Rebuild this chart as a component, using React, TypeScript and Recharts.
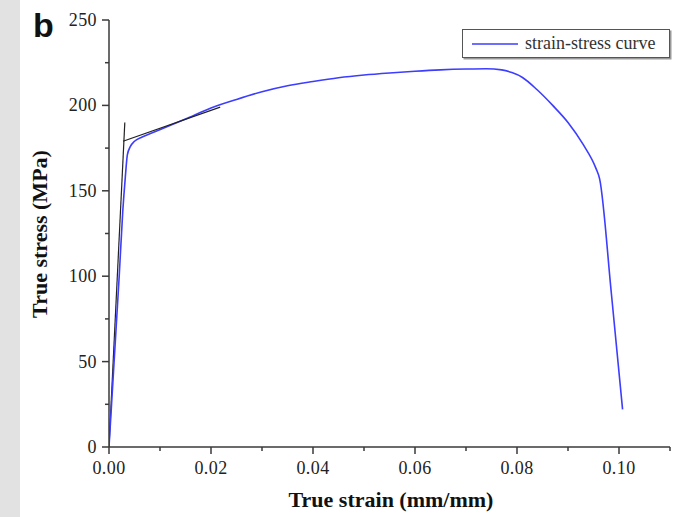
import { LineChart, Line, XAxis, YAxis, Legend } from 'recharts';

// main strain-stress curve
const strain = [
  0, 0.001, 0.002, 0.0027, 0.0032, 0.0036, 0.0042, 0.005, 0.0065, 0.0085, 0.011,
  0.015, 0.02, 0.025, 0.03, 0.035, 0.04, 0.045, 0.05, 0.055, 0.06, 0.065, 0.07,
  0.074, 0.077, 0.079, 0.081, 0.084, 0.087, 0.09, 0.093, 0.0955, 0.0962, 0.0985,
  0.1007,
];
const stress = [
  0, 50, 100, 138, 158, 171, 176, 179, 181.5, 184, 187, 192, 198.5, 203.5, 208,
  211.5, 214, 216.2, 217.8, 219, 220, 220.8, 221.3, 221.5, 220.8, 219.2, 216.5,
  209, 200, 190, 177, 163, 157, 90, 22,
];

// construction lines (elastic slope and hardening tangent)
const elasticStrain = [0, 0.0031];
const elasticStress = [0, 190];
const tangentStrain = [0.00275, 0.0218];
const tangentStress = [179, 199];

const xTicks = [0, 0.01, 0.02, 0.03, 0.04, 0.05, 0.06, 0.07, 0.08, 0.09, 0.1, 0.11];
const yTicks = [0, 25, 50, 75, 100, 125, 150, 175, 200, 225, 250];

const toPoints = (xs: number[], ys: number[]) => xs.map((x, i) => ({ x, y: ys[i] }));

const curve = toPoints(strain, stress);
const elastic = toPoints(elasticStrain, elasticStress);
const tangent = toPoints(tangentStrain, tangentStress);

const BLUE = '#3d3dff';
const AXIS = '#3a3a3a';
const SERIF = '"Liberation Serif", "DejaVu Serif", serif';

const XTick = ({ x, y, payload }: any) => {
  const v = payload.value;
  const major = Math.round(v * 100) % 2 === 0;
  return (
    <g>
      <line x1={x} x2={x} y1={y} y2={y + (major ? 7 : 4)} stroke={AXIS} strokeWidth={1.5} />
      {major && (
        <text x={x} y={y + 27} textAnchor="middle" fontFamily={SERIF} fontSize={18} fill="#222" letterSpacing={0.4}>
          {v.toFixed(2)}
        </text>
      )}
    </g>
  );
};

const YTick = ({ x, y, payload }: any) => {
  const v = payload.value;
  const major = v % 50 === 0;
  return (
    <g>
      <line x1={x} x2={x - (major ? 7 : 4)} y1={y} y2={y} stroke={AXIS} strokeWidth={1.5} />
      {major && (
        <text x={x - 12} y={y + 6} textAnchor="end" fontFamily={SERIF} fontSize={18} fill="#222" letterSpacing={0.4}>
          {v}
        </text>
      )}
    </g>
  );
};

const LegendBox = () => (
  <div
    style={{
      width: 208,
      height: 29,
      border: '1.5px solid #555',
      boxShadow: '1.5px 1.5px 0 #999',
      background: '#fff',
      display: 'flex',
      alignItems: 'center',
      boxSizing: 'border-box',
    }}
  >
    <svg width={62} height={20}>
      <line x1={9} x2={55} y1={10} y2={10} stroke={BLUE} strokeWidth={1.5} />
    </svg>
    <span style={{ fontFamily: SERIF, fontSize: 18, color: '#333', whiteSpace: 'nowrap' }}>strain-stress curve</span>
  </div>
);

const titleStyle = {
  position: 'absolute' as const,
  whiteSpace: 'nowrap' as const,
  fontFamily: SERIF,
  fontWeight: 'bold' as const,
  fontSize: 22,
  color: '#111',
};

export default function App() {
  return (
    <div style={{ position: 'absolute', left: 0, top: 0, width: 673, height: 517, background: '#fff' }}>
      <div style={{ position: 'absolute', left: 0, top: 0, width: 20, height: 517, background: '#e2e2e2' }} />
      <div
        style={{
          position: 'absolute',
          left: 33,
          top: 6,
          fontFamily: '"Liberation Sans", Arial, sans-serif',
          fontWeight: 'bold',
          fontSize: 34,
          color: '#111',
        }}
      >
        b
      </div>
      <div style={{ ...titleStyle, left: 40, top: 234, transform: 'translate(-50%, -50%) rotate(-90deg)' }}>
        True stress (MPa)
      </div>
      <div style={{ ...titleStyle, left: 391, top: 500, transform: 'translate(-50%, -50%)' }}>
        True strain (mm/mm)
      </div>
      <LineChart
        width={673}
        height={517}
        margin={{ top: 20, right: 3, bottom: 30, left: 49 }}
        style={{ position: 'absolute', left: 0, top: 0 }}
      >
        <XAxis
          type="number"
          dataKey="x"
          domain={[0, 0.11]}
          ticks={xTicks}
          interval={0}
          height={40}
          tickSize={0}
          tickMargin={0}
          tickLine={false}
          tick={<XTick />}
          stroke={AXIS}
          strokeWidth={1.5}
          allowDataOverflow
        />
        <YAxis
          type="number"
          dataKey="y"
          domain={[0, 250]}
          ticks={yTicks}
          interval={0}
          width={60}
          tickSize={0}
          tickMargin={0}
          tickLine={false}
          tick={<YTick />}
          stroke={AXIS}
          strokeWidth={1.5}
          allowDataOverflow
        />
        <Legend
          layout="horizontal"
          verticalAlign="middle"
          align="center"
          content={() => <LegendBox />}
          wrapperStyle={{ position: 'absolute', left: 462, top: 29, width: 208, height: 29 }}
        />
        <Line
          data={elastic}
          dataKey="y"
          type="linear"
          stroke="#222"
          strokeWidth={1.2}
          dot={false}
          isAnimationActive={false}
          legendType="none"
        />
        <Line
          data={curve}
          dataKey="y"
          name="strain-stress curve"
          type="monotone"
          stroke={BLUE}
          strokeWidth={1.6}
          dot={false}
          isAnimationActive={false}
        />
        <Line
          data={tangent}
          dataKey="y"
          type="linear"
          stroke="#222"
          strokeWidth={1.2}
          dot={false}
          isAnimationActive={false}
          legendType="none"
        />
      </LineChart>
    </div>
  );
}
